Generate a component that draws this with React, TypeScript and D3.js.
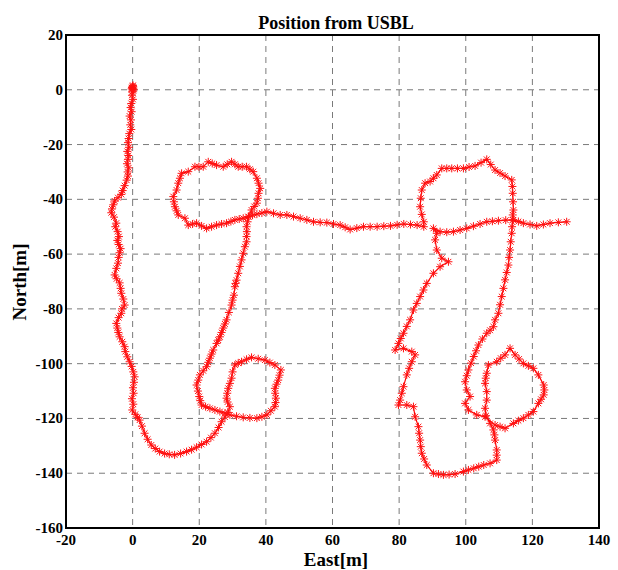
import React, { useEffect, useRef } from 'react';
import * as d3 from 'd3';

// USBL fixes [east, north] in metres, in track order
const startCluster = [
  [0, 0.5], [0.2, 1], [-0.2, 0.8], [0.3, 0.2], [0, 1.3], [-0.3, 0.3], [0.2, -0.4], [0.1, 1.6], [-0.1, -0.8],
];

const westLeg = [
  [-0.2, -2], [0.1, -3.5], [-0.4, -5], [-0.6, -6.5], [-0.3, -8], [-0.9, -9.6], [-0.5, -11], [-0.7, -12.8],
  [-0.4, -14.5], [-1, -16], [-1.2, -17.8], [-1.4, -19.3], [-1.1, -21], [-1.6, -22.5], [-1.3, -24], [-1.4, -25.4],
  [-1.7, -27], [-1.2, -28.5], [-1.5, -30], [-1.4, -31.5], [-1.8, -33], [-2.4, -35], [-3, -36.8], [-3.4, -38.2],
  [-4.4, -39.4], [-5.4, -40.6], [-5.8, -42], [-6.2, -43.5], [-6.4, -44.9], [-5.6, -46.5], [-4.9, -48.7],
  [-5.2, -50], [-4.5, -51.8], [-4.1, -53.6], [-4.6, -55], [-4.2, -56.5], [-3.6, -58], [-3.9, -59.5],
  [-4.2, -61.2], [-4.4, -63.3], [-4.9, -65.2], [-5.4, -67.6], [-4.8, -69], [-3.9, -70.5], [-3.6, -72.5],
  [-3.4, -74.3], [-2.8, -76.4], [-2.4, -78.6], [-3.2, -80], [-3.4, -81.6], [-4.2, -83.2], [-4.9, -85.3],
  [-4.6, -87], [-4.3, -88.6], [-3.9, -90.2], [-3.1, -92], [-2.4, -93.8], [-2.2, -95.6], [-1.6, -97.5],
  [-0.9, -99.3], [-0.3, -101], [0.2, -103], [0.6, -104.8], [0.4, -106.8], [0.1, -108.8], [0.3, -110.8],
  [-0.2, -112.8], [0.2, -114.8], [-0.1, -116.9],
];

const southCurve = [
  [0.8, -118.5], [1.5, -119.6], [2.1, -120.6], [2.8, -122.8], [3.6, -125.4], [4.5, -127.6], [5.6, -129.7],
  [6.8, -131], [8.1, -132.1], [9.6, -132.8], [11, -133.1], [12.6, -133.3], [14.4, -132.8], [16.2, -132.1],
  [17.7, -131.4], [19.2, -130.5], [20.7, -129.5], [22.2, -128.5], [23.5, -127], [24.7, -125.4], [25.8, -123.3],
  [26.7, -121.2], [27.7, -119.5],
];

const lowerLeftLoop = [
  [28.6, -117.8], [29.2, -115.7], [28.5, -114], [28.2, -112.6], [28.4, -110.8], [28.7, -109], [29.2, -107.2],
  [29.7, -105.3], [30, -103], [30.7, -100.5], [31.7, -99.8], [32.7, -99.3], [34.2, -98.4], [35.7, -97.7],
  [37.7, -98.2], [39.7, -98.7], [41.2, -99.6], [42.7, -100.5], [44.5, -102.3], [44.1, -104.2], [43.7, -106],
  [43.2, -107.5], [42.7, -109], [42.8, -110.8], [43, -112.6], [42.9, -114.2], [42.7, -115.7], [41.5, -117.2],
  [40.3, -118.7], [38.8, -119.4], [37.3, -119.9], [35.2, -119.8], [33.2, -119.6], [31.2, -119.2], [29.2, -118.7],
  [27.7, -118.1], [26.2, -117.5], [24.7, -116.9], [23.2, -116.3], [21.9, -115.7], [20.7, -115.1],
];

const westDiagonal = [
  [20.3, -113.5], [20, -112], [19.6, -110], [19.2, -107.8], [19.7, -106], [20.2, -104.1], [21.2, -102.6],
  [22.2, -101.1], [22.7, -99.5], [23.2, -98], [23.7, -96.5], [24.2, -95], [25.2, -92.6], [25.7, -91.4],
  [26.2, -90.2], [26.7, -88.6], [27.2, -87], [27.7, -85.5], [28.2, -84], [28.9, -81.3], [29.7, -78.6],
  [30, -76.8], [30.4, -75], [30.7, -71.9], [30.9, -70.7], [31.2, -69.5], [31.7, -67], [32.2, -64.5],
  [32.7, -62.1], [33.2, -59.7], [33.7, -57.3], [34.2, -55.5], [34.2, -53.6], [34.3, -51.8], [34.2, -50],
  [34.5, -48.2], [34.7, -46.3],
];

const upperLeftLoop = [
  [35.7, -43.9], [36.5, -42.6], [37.3, -41.4], [37.6, -39.6], [37.8, -37.8], [38.3, -36], [37.8, -34.1],
  [37.3, -32.3], [36.2, -29.9], [35.2, -29], [34.2, -28.1], [32.9, -28.1], [31.7, -28.1], [30.7, -27.2],
  [29.7, -26.3], [28.4, -27.2], [27.2, -28.1], [25.2, -27.5], [23.9, -26.9], [22.7, -26.3], [21.2, -28.1],
  [19.9, -28.1], [18.7, -28.1], [16.7, -29.9], [14.7, -30.5], [14.2, -32.3], [13.7, -34.1], [13.2, -36.6],
  [12.2, -39], [12.4, -40.9], [12.7, -42.7], [13.2, -44.2], [13.7, -45.7], [15.7, -46.9], [16.7, -49.4],
  [18, -49], [19.2, -48.7], [20.7, -49.7], [22.2, -50.6], [23.7, -50], [25.2, -49.4], [26.7, -49],
  [28.2, -48.7], [29.5, -48.1], [30.7, -47.5], [32, -47.2], [33.2, -46.9], [34.8, -46.4], [36, -45.8],
];

const crossTrack = [
  [37.3, -45.4], [38.8, -45], [40.3, -44.5], [42.3, -45.1], [44.3, -45.7], [46.3, -45.7], [48.3, -46.3],
  [50.3, -46.9], [52.3, -47.5], [54.3, -48.2], [56.3, -48.4], [58.3, -48.5], [60.3, -49], [62.3, -49.4],
  [63.8, -50.2], [65.3, -51], [67.3, -50.5], [69.3, -50], [71.3, -50], [73.4, -50], [75.4, -49.8],
  [77.4, -49.7], [79.4, -49.3], [81.4, -49], [83.4, -49.2], [85.4, -49.4], [87.4, -50],
];

const upperRightLoop = [
  [87.4, -48.2], [86.8, -45.5], [86.3, -42.7], [86.5, -39.6], [86.8, -36.6], [87.8, -34.1], [89.3, -33.5],
  [90.3, -32.3], [91.3, -31.1], [92.8, -28.7], [94.3, -28.7], [95.8, -28.7], [97.5, -28.7], [99.3, -28.7],
  [101, -28.2], [102.8, -27.8], [104.6, -26.6], [106.3, -25.4], [107.5, -27.3], [108.8, -29.3], [110.3, -30.4],
  [111.8, -31.5], [113.8, -32.9], [114, -35.3], [114.1, -37.8], [114.2, -40.9], [114.3, -43.9], [114.1, -45.7],
  [114.1, -47.5],
];

const eastLeg = [
  [113.9, -50], [113.8, -52.4], [113.5, -55.5], [113.3, -58.5], [113, -61.2], [112.8, -64], [112.3, -66.7],
  [111.8, -69.4], [111.3, -72.5], [110.8, -75.5], [110.3, -78.5], [109.8, -81.6], [108.8, -84], [108.3, -86.5],
  [107.3, -87.8], [106.3, -88.9], [105, -91], [103.8, -93.2], [103.1, -95.3], [102.4, -97.4], [101.6, -99.8],
  [100.8, -102.3], [100.3, -104.4], [99.8, -106.6], [100.3, -109.6], [101.3, -112], [99.8, -114.5],
  [100.8, -116.9], [103.3, -118.7], [105.8, -119.4],
];

const lowerRightLoop = [
  [108.8, -122.4], [110.3, -123], [111.8, -123.6], [114.3, -121.8], [115.8, -120.8], [117.3, -119.9],
  [118.8, -118.7], [120.3, -117.5], [121.8, -114.5], [122.6, -113], [123.4, -111.4], [123.6, -109.6],
  [123.4, -107.8], [121.8, -104.1], [120.3, -101.7], [118.8, -100.8], [117.3, -99.9], [116, -98.3],
  [114.8, -96.8], [113.3, -94.4], [111.8, -96.8], [110.5, -98], [109.3, -99.3], [106.8, -100.5],
  [106.3, -103.5], [106, -105.3], [105.8, -107.2], [106.3, -110.2], [106.3, -113.3], [105.8, -116.3],
  [106.1, -119],
];

const southEastLeg = [
  [107.3, -121.8], [108.3, -124.2], [108.6, -126], [108.8, -127.9], [109.3, -131.5], [109.3, -133.4],
  [109.3, -135.2], [107.3, -136.4], [105.4, -137], [103.9, -137.6], [102.4, -138.2], [100.8, -138.8],
  [99.3, -139.4], [96.8, -140.3], [95, -140.5], [93.3, -140.6], [91.8, -140.3], [90.3, -140], [88.3, -137],
  [87.5, -134.8], [86.8, -132.7], [86.5, -130.3], [86.3, -127.9], [86, -125.4], [85.8, -123], [84.8, -119.4],
  [84.3, -115.7], [82.3, -115.1], [79.8, -115.1], [80.3, -113.3], [80.8, -110.8], [81.3, -108.4],
  [82.3, -104.1], [83, -101.7], [83.8, -99.3], [84.8, -96.8], [83.8, -95.6], [81.3, -94.4], [78.8, -95],
  [79.8, -92.6], [80.5, -90.8], [81.3, -88.9], [82.3, -86.4], [83.3, -84], [84.3, -80.4], [85.3, -78],
  [86.3, -75.5], [87.3, -73.1], [88.3, -70.7], [90.3, -67], [92.3, -64.6], [94.8, -62.8], [92.8, -61.5],
  [91.3, -58.5], [90.8, -54.8], [91.3, -52.4], [90.3, -50.6],
];

const eastTrack = [
  [92.3, -51.8], [94.3, -52], [96.3, -51.8], [98.3, -51.2], [100.3, -50.6], [102.3, -49.8], [104.3, -49],
  [106.3, -48.2], [108, -48], [109.8, -47.8], [112, -47.6], [114.3, -47.5], [115.8, -48.1], [117.3, -48.7],
  [119.3, -49.2], [121.3, -49.7], [123.3, -49.2], [125.3, -48.7], [127.8, -48.4], [130.3, -48.2],
];

const track = [
  ...startCluster, ...westLeg, ...southCurve, ...lowerLeftLoop, ...westDiagonal, ...upperLeftLoop,
  ...crossTrack, ...upperRightLoop, ...eastLeg, ...lowerRightLoop, ...southEastLeg, ...eastTrack,
];

const xTicks = [-20, 0, 20, 40, 60, 80, 100, 120, 140];
const yTicks = [20, 0, -20, -40, -60, -80, -100, -120, -140, -160];

const App = () => {
  const ref = useRef(null);

  useEffect(() => {
    const width = 618;
    const height = 570;
    const margin = { top: 35, left: 66, bottom: 42, right: 19 };
    const font = '"Liberation Serif", "Times New Roman", serif';

    const svg = d3.select(ref.current);
    svg.selectAll('*').remove();
    svg.attr('width', width).attr('height', height);

    svg.append('rect').attr('width', width).attr('height', height).attr('fill', '#fff');

    const x = d3.scaleLinear().domain([-20, 140]).range([margin.left, width - margin.right]);
    const y = d3.scaleLinear().domain([-160, 20]).range([height - margin.bottom, margin.top]);

    // grid
    const grid = svg.append('g').attr('stroke', '#7a7a7a').attr('stroke-width', 1).attr('stroke-dasharray', '6,5');
    grid.selectAll('line.v').data(xTicks.slice(1, -1)).enter().append('line')
      .attr('x1', d => x(d)).attr('x2', d => x(d))
      .attr('y1', y(20)).attr('y2', y(-160));
    grid.selectAll('line.h').data(yTicks.slice(1, -1)).enter().append('line')
      .attr('x1', x(-20)).attr('x2', x(140))
      .attr('y1', d => y(d)).attr('y2', d => y(d));

    // track line
    const line = d3.line().x(d => x(d[0])).y(d => y(d[1]));
    svg.append('path')
      .datum(track)
      .attr('d', line)
      .attr('fill', 'none')
      .attr('stroke', '#ff0000')
      .attr('stroke-width', 1.2);

    // star markers
    const star = 'M-4,0H4M0,-4V4M-2.9,-2.9L2.9,2.9M-2.9,2.9L2.9,-2.9';
    svg.append('g').selectAll('path').data(track).enter().append('path')
      .attr('d', star)
      .attr('transform', d => `translate(${x(d[0])},${y(d[1])})`)
      .attr('fill', 'none')
      .attr('stroke', '#ff1010')
      .attr('stroke-width', 1);

    // frame
    svg.append('rect')
      .attr('x', x(-20)).attr('y', y(20))
      .attr('width', x(140) - x(-20)).attr('height', y(-160) - y(20))
      .attr('fill', 'none').attr('stroke', '#000').attr('stroke-width', 2);

    // tick labels
    svg.append('g').selectAll('text').data(xTicks).enter().append('text')
      .attr('x', d => x(d)).attr('y', y(-160) + 17)
      .attr('text-anchor', 'middle')
      .attr('font-family', font).attr('font-weight', 'bold').attr('font-size', 15)
      .text(d => d);
    svg.append('g').selectAll('text').data(yTicks).enter().append('text')
      .attr('x', x(-20) - 3).attr('y', d => y(d) + 5)
      .attr('text-anchor', 'end')
      .attr('font-family', font).attr('font-weight', 'bold').attr('font-size', 15)
      .text(d => d);

    // titles
    svg.append('text')
      .attr('x', 336).attr('y', 29)
      .attr('text-anchor', 'middle')
      .attr('font-family', font).attr('font-weight', 'bold').attr('font-size', 18)
      .text('Position from USBL');
    svg.append('text')
      .attr('x', 336).attr('y', 566)
      .attr('text-anchor', 'middle')
      .attr('font-family', font).attr('font-weight', 'bold').attr('font-size', 19)
      .text('East[m]');
    svg.append('text')
      .attr('transform', 'translate(26,282) rotate(-90)')
      .attr('text-anchor', 'middle')
      .attr('font-family', font).attr('font-weight', 'bold').attr('font-size', 19)
      .text('North[m]');
  }, []);

  return (
    <div style={{ position: 'absolute', left: 0, top: 0 }}>
      <svg ref={ref} style={{ display: 'block' }}></svg>
    </div>
  );
};

export default App;
